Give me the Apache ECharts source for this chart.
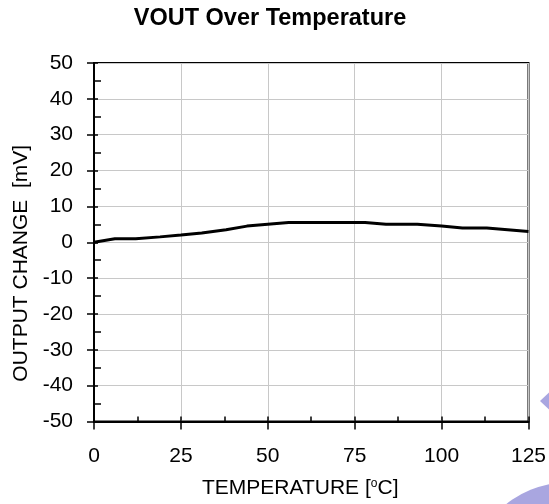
<!DOCTYPE html>
<html>
<head>
<meta charset="utf-8">
<script src="https://cdn.jsdelivr.net/npm/echarts@6/dist/echarts.min.js"></script>
<style>
  html, body { margin: 0; padding: 0; background: #fff; }
  #chart { width: 549px; height: 504px; }
</style>
</head>
<body>
<div id="chart"></div>
<script>
// Output voltage change versus temperature
const temperatures = [0, 6, 12, 19, 25, 31, 38, 44, 50, 56, 62, 69, 75, 78, 84, 93, 100, 106, 113, 119, 125];
const outputChange = [0, 1, 1, 1.5, 2, 2.6, 3.5, 4.5, 5, 5.5, 5.5, 5.5, 5.5, 5.5, 5, 5, 4.5, 4, 4, 3.5, 3];
const xTicks = [0, 25, 50, 75, 100, 125];
const yTicks = [-50, -40, -30, -20, -10, 0, 10, 20, 30, 40, 50];

const FONT = 'Liberation Sans, Arial, sans-serif';
const chart = echarts.init(document.getElementById('chart'));

const xRange = { min: xTicks[0], max: xTicks[xTicks.length - 1], interval: xTicks[1] - xTicks[0] };
const yRange = { min: yTicks[0], max: yTicks[yTicks.length - 1], interval: yTicks[1] - yTicks[0] };

chart.setOption({
  animation: false,
  title: {
    text: 'VOUT Over Temperature',
    left: 265,
    top: 2,
    textAlign: 'center',
    textStyle: { fontFamily: FONT, fontSize: 23.5, fontWeight: 'bold', color: '#000' }
  },
  grid: {
    left: 94, right: 20, top: 63, bottom: 81,
    show: true, borderColor: '#000', borderWidth: 2, backgroundColor: '#fff'
  },
  xAxis: [
    {
      type: 'value', ...xRange,
      axisLine: { show: true, onZero: false, lineStyle: { color: '#000', width: 2 } },
      axisTick: { show: true, inside: true, length: 5, lineStyle: { color: '#000', width: 1.5 } },
      minorTick: { show: true, splitNumber: 2, length: 5, lineStyle: { color: '#000', width: 1.5 } },
      axisLabel: { color: '#000', fontFamily: FONT, fontSize: 21, margin: 24 },
      splitLine: { show: true, lineStyle: { color: '#c8c8c8', width: 1 } },
      name: 'TEMPERATURE [{sup|o}C]',
      nameLocation: 'middle',
      nameGap: 56,
      nameTextStyle: {
        color: '#000', fontFamily: FONT, fontSize: 21, padding: [0, 22, 0, 0],
        rich: { sup: { fontSize: 12, verticalAlign: 'top', padding: [0, 0, 10, 0], color: '#000', fontFamily: FONT } }
      }
    },
    {
      type: 'value', ...xRange, position: 'bottom',
      axisLine: { show: false, onZero: false },
      axisTick: { show: true, inside: false, length: 8, lineStyle: { color: '#000', width: 1.5 } },
      axisLabel: { show: false },
      splitLine: { show: false }
    }
  ],
  yAxis: [
    {
      type: 'value', ...yRange,
      axisLine: { show: true, onZero: false, lineStyle: { color: '#000', width: 2 } },
      axisTick: { show: true, inside: true, length: 4, lineStyle: { color: '#000', width: 1.5 } },
      minorTick: { show: true, splitNumber: 2, length: 7, lineStyle: { color: '#000', width: 1.5 } },
      axisLabel: { color: '#000', fontFamily: FONT, fontSize: 21, margin: 21 },
      splitLine: { show: true, lineStyle: { color: '#c8c8c8', width: 1 } },
      name: 'OUTPUT CHANGE  [mV]',
      nameLocation: 'middle',
      nameGap: 62,
      nameTextStyle: { color: '#000', fontFamily: FONT, fontSize: 21, padding: [0, 42, 0, 0] }
    },
    {
      type: 'value', ...yRange, position: 'left',
      axisLine: { show: false, onZero: false },
      axisTick: { show: true, inside: false, length: 7, lineStyle: { color: '#000', width: 1.5 } },
      axisLabel: { show: false },
      splitLine: { show: false }
    }
  ],
  series: [{
    type: 'line',
    data: temperatures.map((t, i) => [t, outputChange[i]]),
    showSymbol: false,
    lineStyle: { color: '#000', width: 3 },
    z: 5
  }],
  graphic: [
    {
      type: 'polygon',
      shape: { points: [[540, 401], [556, 386], [556, 416]] },
      style: { fill: '#a9a6e0' },
      silent: true
    },
    {
      type: 'circle',
      shape: { cx: 570, cy: 585, r: 103 },
      style: { fill: '#a9a6e0' },
      silent: true
    }
  ]
});
</script>
</body>
</html>
